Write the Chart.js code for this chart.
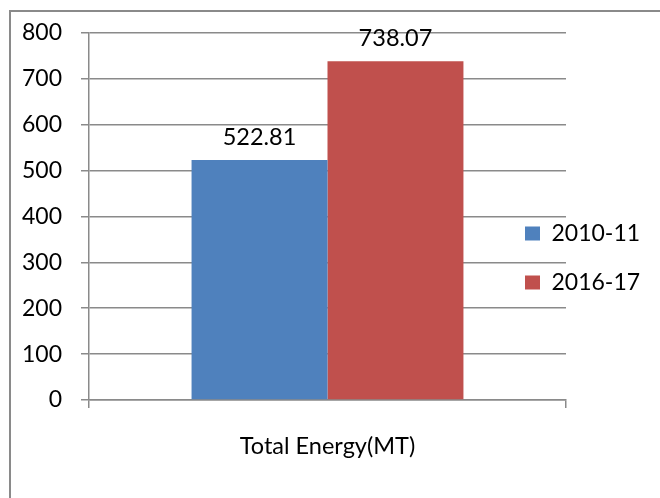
<!DOCTYPE html>
<html>
<head>
<meta charset="utf-8">
<script src="https://cdn.jsdelivr.net/npm/chart.js@4.4.0/dist/chart.umd.min.js"></script>
<style>
  html, body { margin: 0; padding: 0; background: #ffffff; }
  #wrap { width: 660px; height: 498px; position: relative; }
</style>
</head>
<body>
<div id="wrap"><canvas id="c" width="660" height="498"></canvas></div>
<script>
// Energy totals by year
const categories = ['Total Energy(MT)'];
const seriesNames = ['2010-11', '2016-17'];
const values2010 = [522.81];
const values2016 = [738.07];
const yMin = 0;
const yMax = 800;
const yStep = 100;

const FONT = 'Lato';
const AXIS_GRAY = '#8a8a8a';

// Outer chart frame (top and left edges)
const framePlugin = {
  id: 'frame',
  beforeDraw(chart) {
    const ctx = chart.ctx;
    ctx.save();
    ctx.strokeStyle = AXIS_GRAY;
    ctx.lineWidth = 2;
    ctx.beginPath();
    ctx.moveTo(10, 498);
    ctx.lineTo(10, 11);
    ctx.lineTo(660, 11);
    ctx.stroke();
    ctx.restore();
  }
};

// Legend sits beside the plot, overlapping the gridline ends
const legendPlacePlugin = {
  id: 'legendPlace',
  beforeLayout(chart) {
    const lg = chart.legend;
    if (lg && !lg._fixedFit) {
      const origFit = lg.fit.bind(lg);
      lg.fit = function () { origFit(); this.width = 94; };
      lg._fixedFit = true;
    }
  },
  afterLayout(chart) {
    const lg = chart.legend;
    if (!lg) return;
    lg.left = 499;
    lg.right = 660;
    lg.top = 196;
    lg.bottom = 498;
    lg.width = lg.right - lg.left;
    lg.height = lg.bottom - lg.top;
  }
};

// Value labels above each bar
const valueLabelPlugin = {
  id: 'valueLabels',
  afterDatasetsDraw(chart) {
    const ctx = chart.ctx;
    ctx.save();
    ctx.font = '23.5px ' + FONT;
    ctx.fillStyle = '#000000';
    ctx.textAlign = 'center';
    ctx.textBaseline = 'middle';
    chart.data.datasets.forEach((ds, i) => {
      const meta = chart.getDatasetMeta(i);
      meta.data.forEach((bar, j) => {
        ctx.fillText(ds.data[j].toFixed(2), bar.x, bar.y - 23);
      });
    });
    ctx.restore();
  }
};

new Chart(document.getElementById('c'), {
  type: 'bar',
  data: {
    labels: categories,
    datasets: [
      { label: seriesNames[0], data: values2010, backgroundColor: '#4f81bd' },
      { label: seriesNames[1], data: values2016, backgroundColor: '#c0504d' }
    ]
  },
  options: {
    responsive: false,
    animation: false,
    devicePixelRatio: 1,
    layout: { padding: { left: 0, right: 0, top: 32, bottom: 0 } },
    datasets: { bar: { categoryPercentage: 0.57, barPercentage: 1.0 } },
    plugins: {
      legend: {
        position: 'right',
        align: 'start',
        labels: {
          boxWidth: 15,
          boxHeight: 14,
          padding: 26,
          color: '#000000',
          font: { family: FONT, size: 23 }
        }
      },
      tooltip: { enabled: false }
    },
    scales: {
      x: {
        offset: true,
        border: { color: AXIS_GRAY, width: 1.5 },
        grid: {
          offset: true,
          drawOnChartArea: false,
          drawTicks: true,
          tickLength: 8,
          color: AXIS_GRAY,
          lineWidth: 1.5
        },
        ticks: {
          color: '#000000',
          padding: 24,
          maxRotation: 0,
          font: { family: FONT, size: 23.5 }
        },
        afterFit(scale) { scale.height = 98; }
      },
      y: {
        min: yMin,
        max: yMax,
        border: { color: AXIS_GRAY, width: 1.5 },
        grid: {
          color: AXIS_GRAY,
          lineWidth: 1.5,
          drawTicks: true,
          tickLength: 8
        },
        ticks: {
          stepSize: yStep,
          color: '#000000',
          padding: 19,
          font: { family: FONT, size: 23 }
        },
        afterFit(scale) { scale.width = 89; }
      }
    }
  },
  plugins: [framePlugin, legendPlacePlugin, valueLabelPlugin]
});
</script>
</body>
</html>
